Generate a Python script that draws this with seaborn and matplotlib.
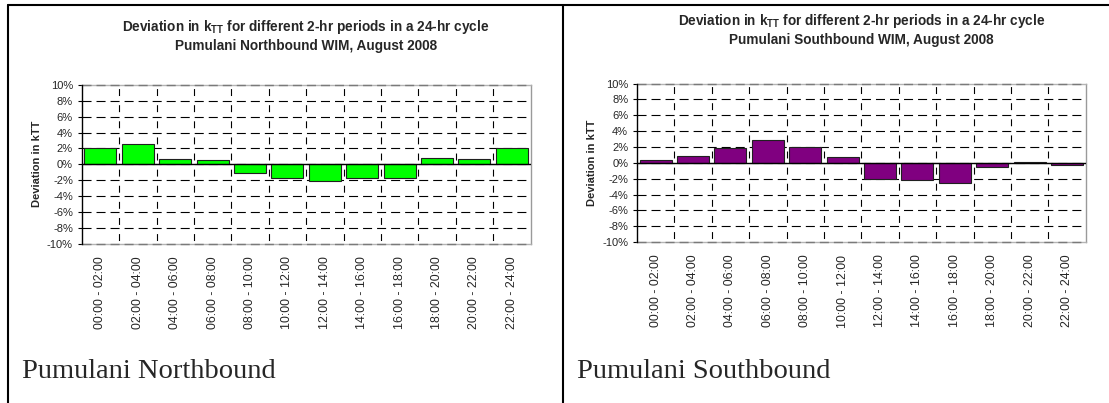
import matplotlib
matplotlib.use("Agg")
import matplotlib.pyplot as plt
from matplotlib.lines import Line2D
from matplotlib.ticker import FuncFormatter, FixedLocator
import seaborn as sns
import pandas as pd

# ---- data -------------------------------------------------------------
periods = ["00:00 - 02:00", "02:00 - 04:00", "04:00 - 06:00", "06:00 - 08:00",
           "08:00 - 10:00", "10:00 - 12:00", "12:00 - 14:00", "14:00 - 16:00",
           "16:00 - 18:00", "18:00 - 20:00", "20:00 - 22:00", "22:00 - 24:00"]
northbound = [2.0, 2.5, 0.7, 0.5, -1.1, -1.7, -2.1, -1.7, -1.7, 0.8, 0.7, 2.1]
southbound = [0.3, 0.9, 1.9, 2.9, 2.0, 0.7, -2.0, -2.2, -2.5, -0.5, 0.1, -0.3]
y_ticks = [-10, -8, -6, -4, -2, 0, 2, 4, 6, 8, 10]

title_line1 = r"Deviation in k$_{\mathbf{TT}}$ for different 2-hr periods in a 24-hr cycle"
nb_title2 = "Pumulani Northbound WIM, August 2008"
sb_title2 = "Pumulani Southbound WIM, August 2008"
y_label = "Deviation in kTT"
nb_caption = "Pumulani Northbound"
sb_caption = "Pumulani Southbound"

# ---- style ------------------------------------------------------------
sns.set_style("white")
plt.rcParams["font.family"] = ["Liberation Sans", "DejaVu Sans"]
plt.rcParams["mathtext.fontset"] = "custom"
plt.rcParams["mathtext.rm"] = "Liberation Sans:bold"
plt.rcParams["mathtext.bf"] = "Liberation Sans:bold"
plt.rcParams["lines.scale_dashes"] = False

W, H = 1109, 403
fig = plt.figure(figsize=(W / 100, H / 100), dpi=100)


def px_axes(x0, y0, x1, y1):
    """Axes placed by pixel box (top-left origin)."""
    return fig.add_axes([x0 / W, 1 - y1 / H, (x1 - x0) / W, (y1 - y0) / H])


def draw_panel(ax, values, color, title2, caption, title_y, cap_x):
    df = pd.DataFrame({"period": periods, "dev": values})
    sns.barplot(data=df, x="period", y="dev", ax=ax, color=color,
                edgecolor="#202020", linewidth=0.8, width=0.86, saturation=1)
    ax.set_xlim(-0.5, len(periods) - 0.5)
    ax.set_ylim(-10, 10)
    ax.yaxis.set_major_locator(FixedLocator(y_ticks))
    ax.yaxis.set_major_formatter(FuncFormatter(lambda v, p: f"{v:.0f}%"))
    ax.set_xticks(range(len(periods)))
    ax.set_xticklabels(periods, rotation=90, fontsize=8.9)
    ax.tick_params(axis="x", length=0, pad=9)
    ax.tick_params(axis="y", direction="out", length=2.9, width=0.8,
                   color="black", labelsize=8, pad=3.4)
    ax.yaxis.set_ticks_position("left")
    ax.set_xlabel("")

    # horizontal dashed grid at each 2 %
    for y in y_ticks[1:-1]:
        ax.axhline(y, color="black", lw=0.8, ls=(0, (6.5, 3.6)), zorder=0.5)
    # plot-area border lines at the limits carry a grey dash
    for y in (y_ticks[0], y_ticks[-1]):
        ax.axhline(y, color="#7a7a7a", lw=1.0, ls=(0, (6.5, 3.6)), zorder=2.6,
                   clip_on=False)
    # vertical dashed grid at category boundaries
    for b in range(1, len(periods)):
        ax.axvline(b - 0.5, color="black", lw=0.8,
                   ls=(9.1, (5.0, 6.6)), zorder=0.5)
    ax.axhline(0, color="black", lw=1.0, zorder=3)

    for side in ("top", "right", "bottom"):
        ax.spines[side].set_color("#b4b4b4")
        ax.spines[side].set_linewidth(1.0)
    ax.spines["right"].set_color("#9a9a9a")
    ax.spines["left"].set_color("black")
    ax.spines["left"].set_linewidth(1.0)
    ax.spines["left"].set_zorder(3)

    ax.set_ylabel(y_label, fontsize=8, fontweight="bold")
    ax.yaxis.set_label_coords(-0.1, 0.5)
    ax.yaxis.label.set_va("center")

    bb = ax.get_position()
    cx = bb.x0 + bb.width / 2
    fig.text(cx, 1 - title_y[0] / H, title_line1, ha="center", va="center",
             fontsize=9.8, fontweight="bold")
    fig.text(cx, 1 - title_y[1] / H, title2, ha="center", va="center",
             fontsize=9.8, fontweight="bold")
    fig.text(cap_x / W, 1 - 372 / H, caption, ha="left", va="center",
             fontsize=20.5, family=["Liberation Serif", "DejaVu Serif"])


ax_nb = px_axes(81.7, 85, 530.5, 243.6)
draw_panel(ax_nb, northbound, "#00ff00", nb_title2, nb_caption, (27, 46), 22)

ax_sb = px_axes(636.9, 83.5, 1085.7, 242.1)
draw_panel(ax_sb, southbound, "#800080", sb_title2, sb_caption, (21, 40), 577)

# page frame lines
frame = dict(color="black", lw=1.5, transform=fig.transFigure)
fig.add_artist(Line2D([7.5 / W, 1], [1 - 5 / H, 1 - 5 / H], **frame))
fig.add_artist(Line2D([7.5 / W, 7.5 / W], [0, 1 - 5 / H], **frame))
fig.add_artist(Line2D([562.7 / W, 562.7 / W], [0, 1 - 5 / H], **frame))

fig.savefig("out.png", dpi=100)
